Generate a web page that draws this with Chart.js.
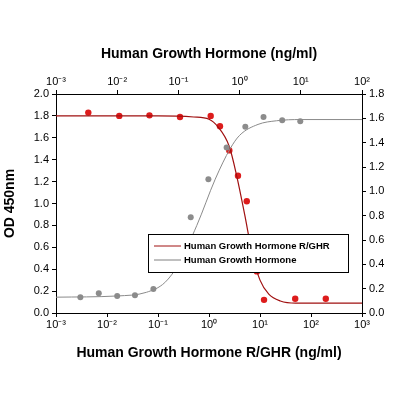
<!DOCTYPE html>
<html><head><meta charset="utf-8">
<script src="https://cdn.jsdelivr.net/npm/chart.js@4/dist/chart.umd.min.js"></script>
<style>html,body{margin:0;background:#fff}#wrap{width:400px;height:400px}</style>
</head><body><div id="wrap"><canvas id="c"></canvas></div>
<script>
// Human Growth Hormone R/GHR (bottom x, left y)
const ghrX = [0.0043, 0.0174, 0.068, 0.27, 1.08, 1.64, 2.5, 3.7, 5.5, 8.7, 12, 49, 195];
const ghrY = [1.83, 1.80, 1.805, 1.79, 1.80, 1.705, 1.485, 1.254, 1.02, 0.38, 0.12, 0.13, 0.13];
const ghrFitX = [0.001, 0.01, 0.1, 0.5, 1, 1.5, 2.5, 3.5, 5, 7, 10, 15, 25, 50, 100, 1000];
const ghrFitY = [1.80, 1.80, 1.80, 1.79, 1.77, 1.70, 1.52, 1.25, 0.90, 0.55, 0.30, 0.17, 0.11, 0.09, 0.09, 0.09];

// Human Growth Hormone (top x, right y)
const ghX = [0.0025, 0.005, 0.01, 0.0195, 0.039, 0.159, 0.309, 0.614, 1.24, 2.46, 4.97, 9.8];
const ghY = [0.13, 0.162, 0.14, 0.145, 0.197, 0.787, 1.10, 1.36, 1.53, 1.61, 1.584, 1.576];
const ghFitX = [0.001, 0.01, 0.03, 0.06, 0.1, 0.2, 0.4, 0.7, 1, 2, 4, 10, 100];
const ghFitY = [0.13, 0.14, 0.17, 0.25, 0.40, 0.72, 1.10, 1.35, 1.46, 1.55, 1.58, 1.59, 1.59];

const bottomTicks = [1e-3, 1e-2, 1e-1, 1, 10, 100, 1000];
const topTicks = [1e-3, 1e-2, 1e-1, 1, 10, 100];
const sup = {'-':'⁻','0':'⁰','1':'¹','2':'²','3':'³'};
const pow = v => '10' + String(Math.round(Math.log10(v))).split('').map(c => sup[c]).join('');

const pts = (xs, ys) => xs.map((x, i) => ({x: x, y: ys[i]}));
const font = {family: 'Arial, "Liberation Sans", sans-serif', size: 11};
const titleFont = {family: 'Arial, "Liberation Sans", sans-serif', size: 14, weight: 'bold'};

const legendBox = {
    id: 'legendBox',
    afterDraw(chart) {
        const ctx = chart.ctx;
        ctx.save();
        ctx.fillStyle = '#fff';
        ctx.fillRect(148, 234, 200, 38);
        ctx.strokeStyle = '#000';
        ctx.lineWidth = 1;
        ctx.strokeRect(148.5, 234.5, 200, 38);
        ctx.font = 'bold 9.5px Arial, "Liberation Sans", sans-serif';
        ctx.textBaseline = 'middle';
        [['Human Growth Hormone R/GHR', '#a01010', 246], ['Human Growth Hormone', '#808080', 260]].forEach(([t, c, y]) => {
            ctx.strokeStyle = c;
            ctx.beginPath(); ctx.moveTo(154, y); ctx.lineTo(181, y); ctx.stroke();
            ctx.fillStyle = '#000';
            ctx.fillText(t, 184, y);
        });
        ctx.restore();
    }
};

function logAxis(pos, ticks, max, title, size) {
    return {
        type: 'logarithmic', position: pos, min: 1e-3, max: max,
        afterBuildTicks: s => { s.ticks = ticks.map(v => ({value: v})); },
        afterFit: s => { s.height = size; },
        ticks: {callback: v => pow(v), color: '#000', font: font, maxRotation: 0, autoSkip: false, padding: 1},
        grid: {drawOnChartArea: false, tickLength: 4, color: '#000'},
        border: {color: '#000'},
        title: {display: true, text: title, color: '#000', font: titleFont, padding: {top: 4, bottom: 4}}
    };
}
function linAxis(pos, max, size, title) {
    return {
        type: 'linear', position: pos, min: 0, max: max,
        afterFit: s => { s.width = size; },
        ticks: {stepSize: 0.2, callback: v => v.toFixed(1), color: '#000', font: font, padding: 3},
        grid: {drawOnChartArea: false, tickLength: 4, color: '#000'},
        border: {color: '#000'},
        title: {display: !!title, text: title, color: '#000', font: titleFont, padding: 2}
    };
}

new Chart(document.getElementById('c'), {
    data: {
        datasets: [
            {type: 'line', data: pts(ghFitX, ghFitY), xAxisID: 'x2', yAxisID: 'y2', borderColor: '#8a8a8a', borderWidth: 1, pointRadius: 0, cubicInterpolationMode: 'monotone'},
            {type: 'scatter', data: pts(ghX, ghY), xAxisID: 'x2', yAxisID: 'y2', backgroundColor: '#8c8c8c', borderWidth: 0, pointRadius: 3},
            {type: 'line', data: pts(ghrFitX, ghrFitY), xAxisID: 'x', yAxisID: 'y', borderColor: '#a01010', borderWidth: 1.2, pointRadius: 0, cubicInterpolationMode: 'monotone'},
            {type: 'scatter', data: pts(ghrX, ghrY), xAxisID: 'x', yAxisID: 'y', backgroundColor: '#dd1c1c', borderWidth: 0, pointRadius: 3.2}
        ]
    },
    options: {
        responsive: true, maintainAspectRatio: false, animation: false,
        layout: {padding: {top: 42, bottom: 34, left: 0, right: 0}},
        plugins: {legend: {display: false}, tooltip: {enabled: false}},
        scales: {
            x: logAxis('bottom', bottomTicks, 1000, 'Human Growth Hormone R/GHR (ng/ml)', 53),
            x2: logAxis('top', topTicks, 100, 'Human Growth Hormone (ng/ml)', 52),
            y: linAxis('left', 2.0, 56, 'OD 450nm'),
            y2: linAxis('right', 1.8, 38, '')
        }
    },
    plugins: [legendBox]
});
</script></body></html>
